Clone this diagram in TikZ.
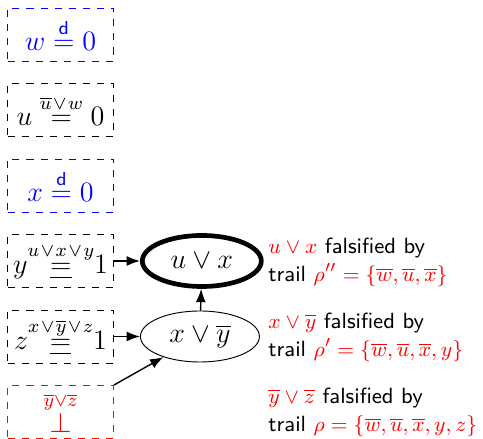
\documentclass[tikz,border=0pt]{standalone}
\usepackage{amsmath}
\usetikzlibrary{arrows.meta,positioning,shapes.geometric}
\tikzset{
  >={Latex[length=2mm]},
  fixed/.style={draw=#1,dashed,text=#1,minimum width=1.59cm,minimum height=0.795cm,
    inner sep=1pt,font=\fontsize{11.5pt}{14pt}\selectfont},
  fixed/.default=black,
  clause/.style={ellipse,draw,minimum width=1.785cm,minimum height=0.765cm,
    inner sep=1pt,font=\large},
  note/.style={anchor=west,align=left,inner sep=0pt,
    font=\fontsize{9.4pt}{12pt}\selectfont\sffamily},
  link/.style={->,semithick},
}
\newcommand{\fls}[1]{\textcolor{red}{#1}}
\newcommand{\why}[1]{\text{\fontsize{7.8pt}{9pt}\selectfont$\medmuskip=1.5mu #1$}}

\begin{document}
\begin{tikzpicture}
  \useasboundingbox (0,0) rectangle (7.245,6.585);
  % trail on the left
  \node[fixed=blue] (w) at (0.9075,6.0675) {$w\overset{\mathsf{d}}{=}0$};
  \node[fixed] (u) at (0.9075,4.935) {$u\overset{\why{\overline{u}\vee w}}{=}0$};
  \node[fixed=blue] (x) at (0.9075,3.8025) {$x\overset{\mathsf{d}}{=}0$};
  \node[fixed] (y) at (0.9075,2.67) {$y\overset{\why{u\vee x\vee y}}{\underline{=}}1$};
  \node[fixed] (z) at (0.9075,1.5375) {$z\overset{\why{x\vee \overline{y}\vee z}}{\underline{=}}1$};
  \node[fixed=red] (bot) at (0.9075,0.405) {$\overset{\overline{y}\vee\overline{z}}{\bot}$};
  % learned clauses
  \node[clause,line width=2pt,right=0.39cm of y] (ux) {$u\vee x$};
  \node[clause,right=0.39cm of z] (xy) {$x\vee\overline{y}$};
  \draw[link] (y) -- (ux);
  \draw[link] (z) -- (xy);
  \draw[link] (xy) -- (ux);
  \draw[link] (bot.north east) -- (xy);
  % explanations
  \node[note] (n1) at (4.02,2.655) {\fls{$u\vee x$} falsified by\\trail \fls{$\rho''=\{\overline{w},\overline{u},\overline{x}\}$}};
  \node[note] (n2) at (4.02,1.53) {\fls{$x\vee\overline{y}$} falsified by\\trail \fls{$\rho'=\{\overline{w},\overline{u},\overline{x},y\}$}};
  \node[note] (n3) at (4.02,0.405) {\fls{$\overline{y}\vee\overline{z}$} falsified by\\trail \fls{$\rho=\{\overline{w},\overline{u},\overline{x},y,z\}$}};
\end{tikzpicture}
\end{document}
